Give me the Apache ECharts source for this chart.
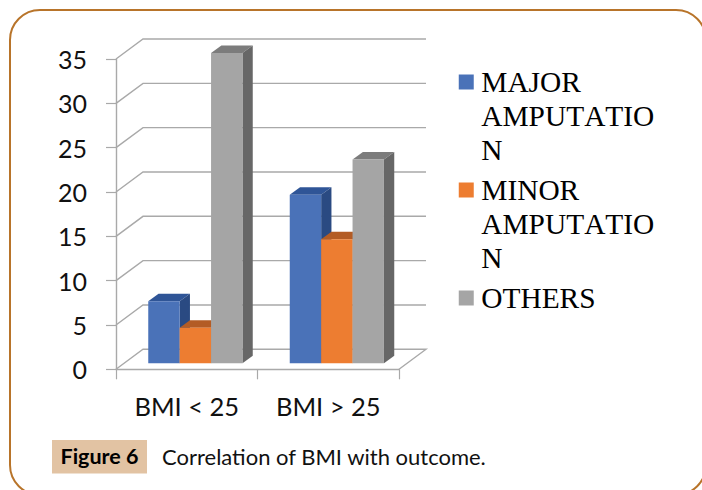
<!DOCTYPE html>
<html>
<head>
<meta charset="utf-8">
<style>
  html, body { margin: 0; padding: 0; background: #fff; }
  #chart { width: 702px; height: 490px; }
  #chart text { font-kerning: none; }
</style>
<script src="https://cdn.jsdelivr.net/npm/echarts@6/dist/echarts.min.js"></script>
</head>
<body>
<div id="chart"></div>
<script>
var categories = ['BMI < 25', 'BMI > 25'];
var yTicks = [0, 5, 10, 15, 20, 25, 30, 35];
var majorValues = [7, 19];
var minorValues = [4, 14];
var otherValues = [35, 23];

var chart = echarts.init(document.getElementById('chart'), null, { renderer: 'svg' });

// back wall and floor of the fake 3d box
function renderWall(params, api) {
  var cs = params.coordSys;
  var p = api.coord([0, api.value(0)]);
  var left = cs.x, right = cs.x + cs.width;
  var style = { stroke: '#a9a9a9', lineWidth: 1.4, fill: null };
  var pts = [[left, p[1]], [left + 27, p[1] - 20], [right + 27, p[1] - 20]];
  if (api.value(0) === 0) pts.push([right, p[1]]);
  return { type: 'polyline', shape: { points: pts }, style: style };
}

function barRenderer(slot, front, top, side) {
  return function (params, api) {
    var bw = 31.4, dx = 10.3, dy = 7.5;
    var c = api.coord([api.value(0), api.value(1)]);
    var base = api.coord([api.value(0), 0])[1] - 6;
    var x = c[0] + 8.6 - 1.5 * bw + slot * bw;
    var y = c[1] - 6;
    return {
      type: 'group',
      children: [
        { type: 'polygon', shape: { points: [[x, y], [x + dx, y - dy], [x + bw + dx, y - dy], [x + bw, y]] }, style: { fill: top } },
        { type: 'polygon', shape: { points: [[x + bw, y], [x + bw + dx, y - dy], [x + bw + dx, base - dy], [x + bw, base]] }, style: { fill: side } },
        { type: 'rect', shape: { x: x, y: y, width: bw, height: base - y }, style: { fill: front } }
      ]
    };
  };
}

function barSeries(name, values, slot, front, top, side) {
  return {
    name: name,
    type: 'custom',
    renderItem: barRenderer(slot, front, top, side),
    itemStyle: { color: front },
    encode: { x: 0, y: 1 },
    z: 5,
    data: values.map(function (v, i) { return [i, v]; })
  };
}

// every label is 5 lines tall with the first real line in the middle,
// so it sits level with the marker and the rows stay evenly spaced
function legendLabel(name) {
  if (name === 'OTHERS') return '\n\n' + name + '\n\n';
  return '\n\n' + name.replace(' ', '\n').replace('AMPUTATION', 'AMPUTATIO\nN');
}

var option = {
  animation: false,
  backgroundColor: '#fff',
  grid: { left: 116, right: 303, top: 59, bottom: 120.7 },
  xAxis: {
    type: 'category',
    data: categories,
    axisLine: { lineStyle: { color: '#a9a9a9', width: 1.4 } },
    axisTick: { show: true, length: 10, lineStyle: { color: '#a9a9a9', width: 1.2 } },
    axisLabel: { color: '#111', fontFamily: 'Lato', fontSize: 25.5, margin: 24 }
  },
  yAxis: {
    type: 'value',
    min: 0,
    max: 35,
    interval: 5,
    axisLine: { show: true, lineStyle: { color: '#a9a9a9', width: 1.4 } },
    axisTick: { show: true, length: 10, lineStyle: { color: '#a9a9a9', width: 1.2 } },
    axisLabel: { color: '#111', fontFamily: 'Lato', fontSize: 25, margin: 29 },
    splitLine: { show: false }
  },
  legend: {
    orient: 'vertical',
    left: 458.75,
    top: -3,
    itemWidth: 20,
    itemHeight: 15,
    itemGap: -62,
    padding: 0,
    selectedMode: false,
    icon: 'path://M0 0H15V15H0Z',
    formatter: legendLabel,
    textStyle: { fontFamily: 'Liberation Serif', fontSize: 29.4, lineHeight: 34, color: '#000' },
    data: ['MAJOR AMPUTATION', 'MINOR AMPUTATION', 'OTHERS']
  },
  graphic: [
    { type: 'rect', z: 0, shape: { x: 10, y: 10, width: 696, height: 485, r: 30 }, style: { fill: null, stroke: '#b8742a', lineWidth: 2 } },
    { type: 'rect', z: 0, shape: { x: 52, y: 440, width: 95, height: 33.5 }, style: { fill: '#e2c3a3' } },
    { type: 'text', z: 1, style: { x: 99.5, y: 456, text: 'Figure 6', align: 'center', verticalAlign: 'middle', font: 'bold 21.5px Lato', fill: '#000' } },
    { type: 'text', z: 1, style: { x: 162, y: 456, text: 'Correlation of BMI with outcome.', verticalAlign: 'middle', font: '22px Lato', fill: '#111' } }
  ],
  series: [
    {
      type: 'custom',
      renderItem: renderWall,
      silent: true,
      z: 1,
      encode: { y: 0 },
      data: yTicks.map(function (v) { return [v]; })
    },
    barSeries('MAJOR AMPUTATION', majorValues, 0, '#4a72b8', '#2f5597', '#2a4a82'),
    barSeries('MINOR AMPUTATION', minorValues, 1, '#ed7d31', '#b35c25', '#a8561f'),
    barSeries('OTHERS', otherValues, 2, '#a5a5a5', '#7c7c7c', '#676767')
  ]
};

chart.setOption(option);
</script>
</body>
</html>
